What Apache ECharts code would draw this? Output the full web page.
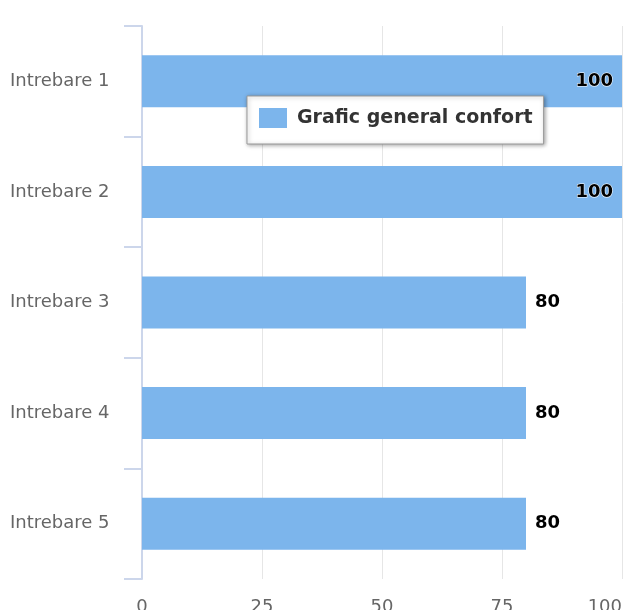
<!DOCTYPE html>
<html>
<head>
<meta charset="utf-8">
<script src="https://cdn.jsdelivr.net/npm/echarts@6/dist/echarts.min.js"></script>
<style>
  html, body { margin: 0; padding: 0; background: #fff; }
  #chart { width: 624px; height: 610px; }
</style>
</head>
<body>
<div id="chart"></div>
<script>
var categories = ["Intrebare 1", "Intrebare 2", "Intrebare 3", "Intrebare 4", "Intrebare 5"];
var values = [100, 100, 80, 80, 80];
var seriesName = "Grafic general confort";
var xTicks = [0, 25, 50, 75, 100];

var mychart = echarts.init(document.getElementById("chart"));

// bars that reach the end of the axis get their label inside
var barData = values.map(function(v) {
  return {
    value: v,
    label: { position: v >= xTicks[xTicks.length - 1] ? "insideRight" : "right" }
  };
});

var option = {
  animation: false,
  textStyle: { fontFamily: "DejaVu Sans" },
  grid: {
    left: 142,
    right: 2,
    top: 26,
    bottom: 31,
    containLabel: false,
    outerBoundsMode: "none"
  },
  legend: {
    left: 247,
    top: 96,
    padding: [12, 11, 16, 12],
    backgroundColor: "#fff",
    borderColor: "#999",
    borderWidth: 1,
    shadowColor: "rgba(0,0,0,0.35)",
    shadowBlur: 4,
    shadowOffsetX: 1,
    shadowOffsetY: 1,
    itemWidth: 28,
    itemHeight: 20,
    itemGap: 10,
    icon: "rect",
    textStyle: {
      color: "#333",
      fontWeight: "bold",
      fontSize: 19,
      padding: [0, 0, 0, 5]
    },
    data: [seriesName]
  },
  xAxis: {
    type: "value",
    min: xTicks[0],
    max: xTicks[xTicks.length - 1],
    interval: 25,
    axisLine: { show: false },
    axisTick: { show: false },
    axisLabel: {
      color: "#666",
      fontSize: 18,
      margin: 19,
      alignMaxLabel: "right"
    },
    splitLine: {
      lineStyle: { color: "#e6e6e6" }
    }
  },
  yAxis: {
    type: "category",
    inverse: true,
    data: categories,
    axisLine: {
      show: true,
      lineStyle: { color: "#ccd6eb", width: 2 }
    },
    axisTick: {
      show: true,
      length: 18,
      lineStyle: { color: "#ccd6eb", width: 2 }
    },
    axisLabel: {
      color: "#666",
      fontSize: 18,
      align: "left",
      margin: 132
    }
  },
  series: [
    {
      name: seriesName,
      type: "bar",
      barWidth: 52,
      itemStyle: { color: "#7cb5ec" },
      label: {
        show: true,
        color: "#000",
        fontWeight: "bold",
        fontSize: 18,
        distance: 9,
        textBorderColor: "#fff",
        textBorderWidth: 1
      },
      data: barData
    }
  ]
};
mychart.setOption(option);
</script>
</body>
</html>
